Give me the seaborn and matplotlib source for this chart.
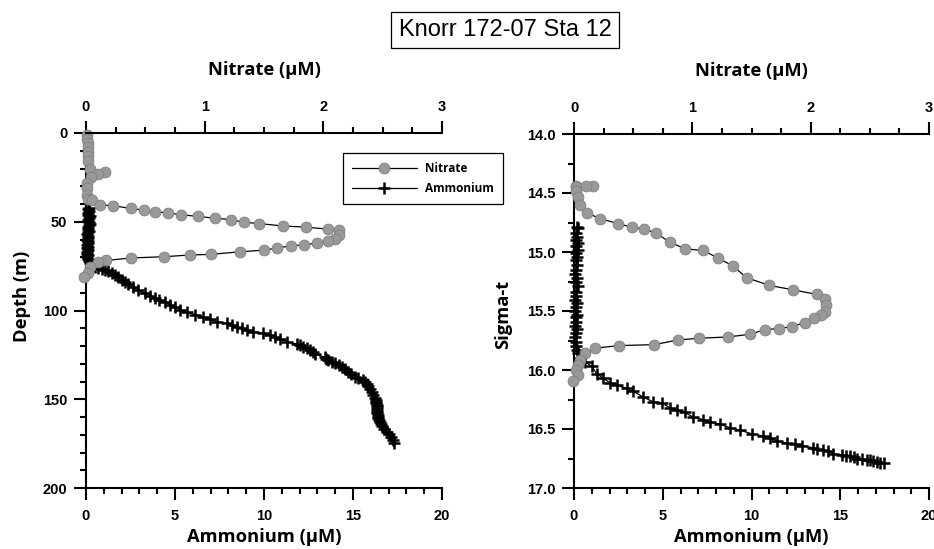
import matplotlib
matplotlib.use("Agg")
import matplotlib.pyplot as plt
from matplotlib.ticker import MultipleLocator, FormatStrFormatter
from matplotlib.font_manager import FontProperties
import seaborn as sns

# ---------------- Knorr 172-07, station 12 profiles ----------------
# Nitrate (uM) against depth (m)
nitrate_depth_m = [1, 3.4, 5.6, 8, 10.7, 13, 16, 20, 22, 23, 25, 28, 31, 35, 37, 38,
                   40.5, 41, 42.5, 43.5, 44.4, 45, 46, 47, 48, 48.8, 50.3, 51, 52.4, 53,
                   54.2, 54.6, 57.4, 59.5, 60.6, 62, 63, 63.5, 64.8, 66, 66.9, 68.4, 68.7,
                   69.7, 70.4, 71.8, 72.5, 75.3, 79, 81]
nitrate_by_depth = [0.006, 0.01, 0.014, 0.014, 0.017, 0.017, 0.02, 0.03, 0.16, 0.10, 0.04,
                    0.01, 0.006, 0.01, 0.02, 0.05, 0.12, 0.23, 0.38, 0.49, 0.58, 0.69, 0.80,
                    0.94, 1.09, 1.22, 1.33, 1.46, 1.66, 1.85, 2.04, 2.13, 2.13, 2.10, 2.04,
                    1.95, 1.84, 1.73, 1.61, 1.50, 1.30, 1.05, 0.88, 0.66, 0.38, 0.17, 0.10,
                    0.03, 0.02, -0.02]

# Ammonium (uM) against depth (m)
ammonium_depth_m = [42, 43, 44, 45, 46, 47, 48, 49, 50, 51, 52, 53, 54, 55, 56, 57, 58, 59,
                    60, 61, 62, 63, 64, 65, 66, 67, 68, 69, 70, 71, 72,
                    73.4, 74.3, 75.3, 76, 76.6, 77.3, 78, 79, 80, 81.4, 82.8, 84, 85.3, 86.9,
                    88.5, 90.3, 91.6, 93, 94, 95, 96.8, 98, 99.5, 101, 102.3, 103.5, 105,
                    106.3, 107.2, 108.2, 109.1, 110, 111, 112, 112.8, 113.8, 115, 116.2,
                    117.6, 118.9, 119.6, 120.4, 121.3, 122.3, 123.5, 124.5, 126.4, 127.2,
                    127.9, 128.8, 129.7, 130.8, 132, 133.2, 134.5, 135.8, 137.3, 138.2,
                    139.2, 140.5, 141.5, 142.5, 144, 145.7, 147.5, 149.5, 150.5, 151.3, 152,
                    153.2, 154, 155, 156, 157, 158, 158.8, 159.8, 160.7, 161.5, 162.8, 163.8,
                    165, 166.7, 168.3, 169.7, 171.1, 173, 174.8]
ammonium_by_depth = [0.15, 0.12, 0.18, 0.10, 0.14, 0.20, 0.16, 0.12, 0.18, 0.22, 0.15, 0.10,
                     0.13, 0.17, 0.12, 0.08, 0.14, 0.10, 0.06, 0.12, 0.09, 0.05, 0.10, 0.07,
                     0.12, 0.04, 0.08, 0.10, 0.06, 0.12, 0.15,
                     0.2, 0.35, 0.5, 0.7, 0.88, 1.05, 1.25, 1.45, 1.63, 1.8, 2.0, 2.2, 2.38,
                     2.65, 2.94, 3.3, 3.6, 3.88, 4.1, 4.44, 4.7, 5.0, 5.3, 5.65, 6.1, 6.59,
                     6.97, 7.34, 7.9, 8.2, 8.47, 8.75, 9.03, 9.4, 9.96, 10.34, 10.6, 10.9,
                     11.27, 11.84, 12.0, 12.21, 12.4, 12.58, 12.75, 12.87, 13.43, 13.5, 13.6,
                     13.8, 13.99, 14.2, 14.36, 14.55, 14.74, 14.9, 15.11, 15.3, 15.58, 15.7,
                     15.8, 15.86, 15.95, 16.05, 16.15, 16.24, 16.28, 16.3, 16.32, 16.33,
                     16.34, 16.35, 16.34, 16.33, 16.36, 16.38, 16.4, 16.42, 16.45, 16.5,
                     16.55, 16.61, 16.75, 16.89, 17.0, 17.12, 17.22, 17.3]

# Nitrate (uM) against sigma-t
nitrate_sigma = [14.444, 14.45, 14.438, 14.441, 14.483, 14.534, 14.604, 14.669, 14.717,
                 14.759, 14.79, 14.807, 14.838, 14.917, 14.973, 14.987, 15.052, 15.117,
                 15.218, 15.283, 15.32, 15.359, 15.396, 15.449, 15.506, 15.537, 15.556,
                 15.599, 15.632, 15.649, 15.658, 15.697, 15.72, 15.731, 15.745, 15.785,
                 15.793, 15.815, 15.86, 15.914, 15.956, 16.004, 16.04, 16.09]
nitrate_by_sigma = [0.017, 0.02, 0.16, 0.10, 0.02, 0.03, 0.05, 0.11, 0.22, 0.37, 0.49, 0.59,
                    0.69, 0.81, 0.94, 1.09, 1.22, 1.34, 1.46, 1.65, 1.85, 2.05, 2.12, 2.13,
                    2.12, 2.09, 2.03, 1.95, 1.84, 1.73, 1.61, 1.49, 1.30, 1.06, 0.88, 0.68,
                    0.38, 0.18, 0.09, 0.05, 0.03, 0.02, 0.03, -0.01]

# Ammonium (uM) against sigma-t
ammonium_sigma = [14.786, 14.80, 14.842, 14.87, 14.90, 14.926, 14.95, 14.983, 15.01, 15.04,
                  15.07, 15.11, 15.15, 15.19, 15.22, 15.25, 15.29, 15.34, 15.37, 15.41,
                  15.43, 15.47, 15.50, 15.53, 15.55, 15.59, 15.63, 15.65, 15.69, 15.72,
                  15.76, 15.80, 15.83, 15.86,
                  15.90, 15.93, 15.97, 16.03, 16.07, 16.11, 16.13, 16.155, 16.18, 16.23,
                  16.27, 16.28, 16.32, 16.34, 16.36, 16.40, 16.42, 16.44, 16.46, 16.49,
                  16.51, 16.54, 16.56, 16.58, 16.60, 16.62, 16.63, 16.64, 16.66, 16.67,
                  16.68, 16.69, 16.71, 16.72, 16.725, 16.73, 16.74, 16.75, 16.755, 16.76,
                  16.765, 16.77, 16.78, 16.79, 16.79]
ammonium_by_sigma = [0.15, 0.20, 0.12, 0.18, 0.10, 0.22, 0.14, 0.20, 0.12, 0.16, 0.10, 0.18,
                     0.14, 0.08, 0.16, 0.12, 0.20, 0.10, 0.14, 0.08, 0.18, 0.12, 0.06, 0.16,
                     0.10, 0.14, 0.08, 0.18, 0.12, 0.06, 0.14, 0.10, 0.16, 0.20,
                     0.34, 0.62, 1.0, 1.28, 1.65, 2.03, 2.4, 2.97, 3.34, 3.9, 4.47, 4.94,
                     5.41, 5.78, 6.25, 6.72, 7.28, 7.66, 8.23, 8.79, 9.35, 10.0, 10.67, 11.04,
                     11.42, 11.98, 12.45, 12.83, 13.48, 13.7, 14.05, 14.3, 14.61, 15.08, 15.3,
                     15.55, 15.75, 15.93, 16.2, 16.49, 16.65, 16.86, 17.05, 17.24, 17.46]

TITLE = "Knorr 172-07 Sta 12"
NITRATE_LABEL = "Nitrate (\u00b5M)"
AMMONIUM_LABEL = "Ammonium (\u00b5M)"

# ---------------- styling ----------------
sns.set_theme(style="white")
plt.rcParams["font.family"] = ["Liberation Sans", "DejaVu Sans"]
plt.rcParams["font.weight"] = "bold"
plt.rcParams["axes.linewidth"] = 1.5
plt.rcParams["text.color"] = "black"
plt.rcParams["axes.labelcolor"] = "black"
plt.rcParams["xtick.color"] = "black"
plt.rcParams["ytick.color"] = "black"

label_font = FontProperties(family="Open Sans", weight="bold", size=13.2)
legend_font = FontProperties(family="Open Sans", weight="bold", size=8.5)

W, H = 934, 549
fig = plt.figure(figsize=(W / 100, H / 100), dpi=100)
fig.patch.set_facecolor("white")

ax_depth = fig.add_axes([86 / W, 1 - 488 / H, 356 / W, 355 / H])
ax_sigma = fig.add_axes([574 / W, 1 - 488 / H, 355 / W, 354 / H])

nitrate_style = dict(color="black", linewidth=0.9, marker="o", markersize=7.8,
                     markerfacecolor="#999999", markeredgecolor="#808080",
                     markeredgewidth=0.6, clip_on=False)
ammonium_style = dict(color="black", linewidth=0.9, marker="+", markersize=8,
                      markeredgecolor="black", markeredgewidth=1.8, clip_on=False)


def draw_panel(ax, y_amm, x_amm, y_nit, x_nit, ylim, ymajor, yminor, ylabel, yfmt):
    sns.lineplot(x=x_amm, y=y_amm, ax=ax, sort=False, estimator=None,
                 label="Ammonium", **ammonium_style)
    top = ax.twiny()
    sns.lineplot(x=x_nit, y=y_nit, ax=top, sort=False, estimator=None,
                 label="Nitrate", **nitrate_style)
    for a in (ax, top):
        if a.get_legend() is not None:
            a.get_legend().remove()
        a.set_facecolor("none")

    ax.set_xlim(0, 20)
    top.set_xlim(0, 3)
    ax.set_ylim(*ylim)

    ax.xaxis.set_major_locator(MultipleLocator(5))
    ax.xaxis.set_minor_locator(MultipleLocator(1))
    top.xaxis.set_major_locator(MultipleLocator(1))
    top.xaxis.set_minor_locator(MultipleLocator(0.25))
    ax.yaxis.set_major_locator(MultipleLocator(ymajor))
    ax.yaxis.set_minor_locator(MultipleLocator(yminor))
    ax.yaxis.set_major_formatter(FormatStrFormatter(yfmt))

    for a in (ax, top):
        a.tick_params(which="major", length=8.5, width=1.5, direction="out",
                      labelsize=10.5, pad=5, color="black", labelcolor="black")
        a.tick_params(which="minor", length=4.3, width=1.5, direction="out",
                      color="black")
    ax.tick_params(axis="x", which="both", bottom=True, top=False,
                   labelbottom=True, labeltop=False)
    ax.tick_params(axis="x", which="major", pad=6.5)
    ax.tick_params(axis="y", which="both", left=True, right=False)
    top.tick_params(axis="x", which="both", top=True, bottom=False,
                    labeltop=True, labelbottom=False)
    top.tick_params(axis="y", which="both", left=False, right=False,
                    labelleft=False, labelright=False)

    for name, sp in ax.spines.items():
        sp.set_visible(name in ("left", "bottom"))
        sp.set_color("black")
        sp.set_linewidth(1.5)
    for name, sp in top.spines.items():
        sp.set_visible(name == "top")
        sp.set_color("black")
        sp.set_linewidth(1.5)

    ax.set_xlabel(AMMONIUM_LABEL, fontproperties=label_font, color="black")
    top.set_xlabel(NITRATE_LABEL, fontproperties=label_font, color="black")
    ax.set_ylabel(ylabel, fontproperties=label_font, color="black")
    return top


top_depth = draw_panel(ax_depth, ammonium_depth_m, ammonium_by_depth,
                       nitrate_depth_m, nitrate_by_depth, (200, 0), 50, 10,
                       "Depth (m)", "%d")
top_sigma = draw_panel(ax_sigma, ammonium_sigma, ammonium_by_sigma,
                       nitrate_sigma, nitrate_by_sigma, (17.0, 14.0), 0.5, 0.25,
                       "Sigma-t", "%.1f")

# axis-label placement (axes fractions)
for ax, top, ylab_x, ylab_y in ((ax_depth, top_depth, -0.18, 0.54),
                                (ax_sigma, top_sigma, -0.20, 0.49)):
    ax.xaxis.set_label_coords(0.5, -0.139)
    ax.xaxis.label.set_va("center")
    top.xaxis.set_label_coords(0.5, 1.177)
    top.xaxis.label.set_va("center")
    ax.yaxis.set_label_coords(ylab_x, ylab_y)
    ax.yaxis.label.set_va("center")

# legend shared by both series
h_amm, l_amm = ax_depth.get_legend_handles_labels()
h_nit, l_nit = top_depth.get_legend_handles_labels()
leg = fig.legend(h_nit + h_amm, l_nit + l_amm, loc="upper left",
                 bbox_to_anchor=(343 / W, 1 - 153 / H), borderaxespad=0,
                 prop=legend_font, frameon=True, fancybox=False, framealpha=1,
                 edgecolor="black", handlelength=5.5, handletextpad=0.7,
                 borderpad=0.75, labelspacing=0.6, numpoints=1, labelcolor="black")
leg.get_frame().set_linewidth(0.9)

# boxed station title
fig.text(505 / W, 1 - 30 / H, TITLE, ha="center", va="center", fontsize=17,
         fontweight="normal", color="black", family=["Liberation Sans", "DejaVu Sans"],
         bbox=dict(boxstyle="square,pad=0.3", facecolor="white",
                   edgecolor="black", linewidth=0.9))

fig.savefig("out.png", dpi=100, facecolor="white")
